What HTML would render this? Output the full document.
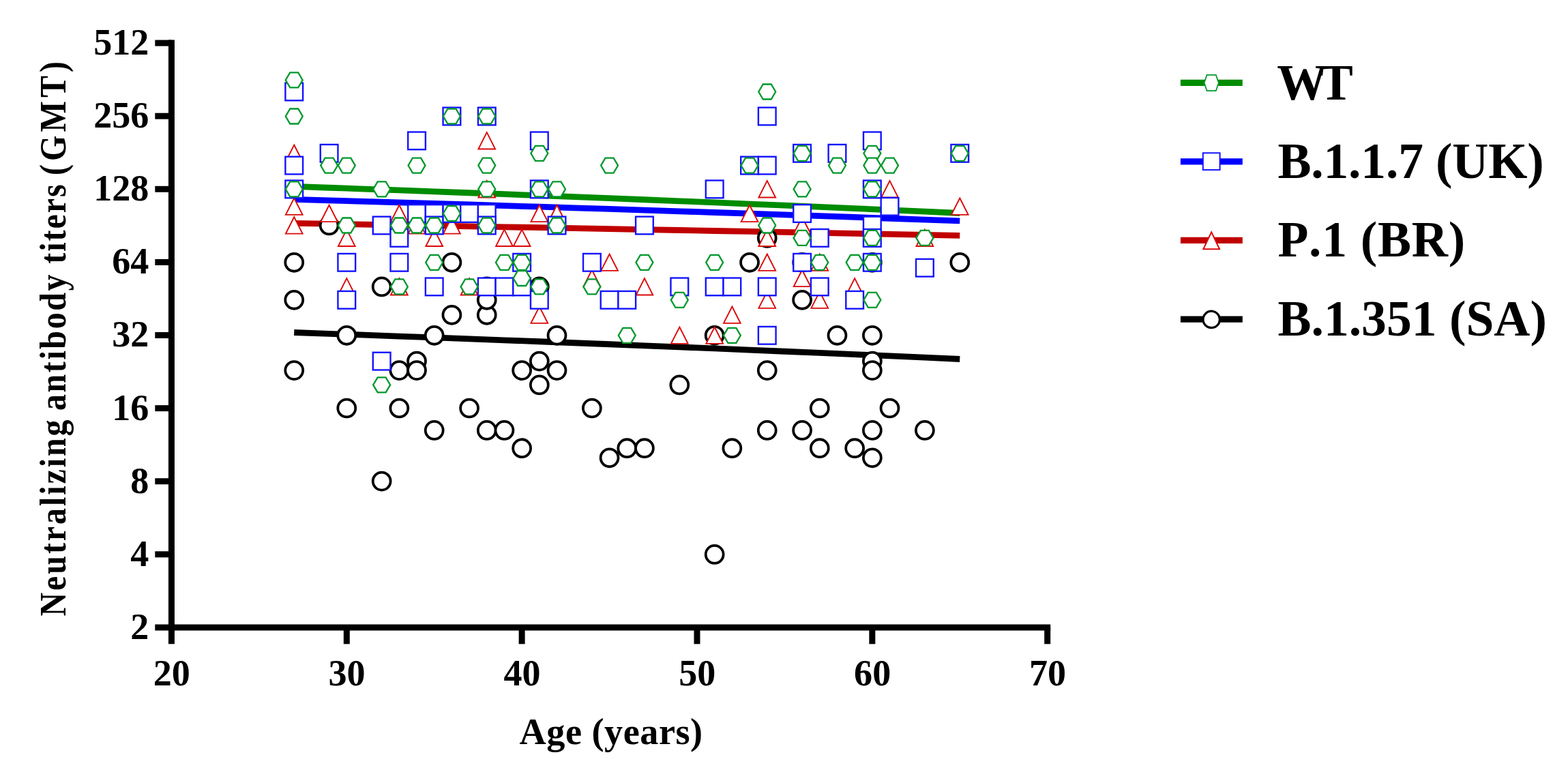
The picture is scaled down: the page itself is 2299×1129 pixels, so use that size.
<!DOCTYPE html>
<html lang="en"><head><meta charset="utf-8"><title>Neutralizing antibody titers by age</title>
<style>html,body{margin:0;padding:0;background:#fff}body{width:2299px;height:1129px;overflow:hidden}svg{display:block}text{font-family:"Liberation Serif","Times New Roman",serif;font-weight:bold;fill:#000;font-kerning:none}</style></head><body>
<svg width="2299" height="1129" viewBox="0 0 2299 1129">
<rect width="2299" height="1129" fill="#fff"/>
<g fill="none" stroke-linecap="butt">
<polyline points="431.25,487.5 482.62,489.32 533.99,491.17 585.36,493.04 636.72,494.93 688.1,496.85 739.46,498.79 790.84,500.75 842.2,502.74 893.58,504.76 944.94,506.8 996.32,508.87 1047.68,510.96 1099.06,513.09 1150.42,515.25 1201.8,517.43 1253.16,519.65 1304.54,521.9 1355.9,524.18 1407.28,526.5" stroke="#000" stroke-width="8.8" stroke-linejoin="round"/>
<polyline points="431.25,327.3 482.62,328.2 533.99,329.11 585.36,330.02 636.72,330.94 688.1,331.86 739.46,332.79 790.84,333.72 842.2,334.66 893.58,335.61 944.94,336.56 996.32,337.52 1047.68,338.48 1099.06,339.45 1150.42,340.43 1201.8,341.41 1253.16,342.4 1304.54,343.39 1355.9,344.39 1407.28,345.4" stroke="#c00000" stroke-width="8.8" stroke-linejoin="round"/>
<polyline points="431.25,292.3 482.62,293.81 533.99,295.34 585.36,296.88 636.72,298.44 688.1,300.01 739.46,301.6 790.84,303.2 842.2,304.83 893.58,306.47 944.94,308.12 996.32,309.8 1047.68,311.49 1099.06,313.21 1150.42,314.94 1201.8,316.69 1253.16,318.46 1304.54,320.25 1355.9,322.07 1407.28,323.9" stroke="#0000ff" stroke-width="8.8" stroke-linejoin="round"/>
<polyline points="431.25,273.4 482.62,275.23 533.99,277.08 585.36,278.95 636.72,280.85 688.1,282.77 739.46,284.71 790.84,286.68 842.2,288.68 893.58,290.7 944.94,292.74 996.32,294.82 1047.68,296.92 1099.06,299.05 1150.42,301.21 1201.8,303.41 1253.16,305.63 1304.54,307.89 1355.9,310.18 1407.28,312.5" stroke="#008c00" stroke-width="8.8" stroke-linejoin="round"/>
</g>
<g id="sa">
<circle cx="431.25" cy="384.8" r="12.95" fill="#fff" stroke="#000" stroke-width="3.8"/>
<circle cx="431.25" cy="439.8" r="12.95" fill="#fff" stroke="#000" stroke-width="3.8"/>
<circle cx="431.25" cy="543.1" r="12.95" fill="#fff" stroke="#000" stroke-width="3.8"/>
<circle cx="482.62" cy="330.5" r="12.95" fill="#fff" stroke="#000" stroke-width="3.8"/>
<circle cx="508.3" cy="491.8" r="12.95" fill="#fff" stroke="#000" stroke-width="3.8"/>
<circle cx="508.3" cy="598.5" r="12.95" fill="#fff" stroke="#000" stroke-width="3.8"/>
<circle cx="559.67" cy="420.4" r="12.95" fill="#fff" stroke="#000" stroke-width="3.8"/>
<circle cx="559.67" cy="705.6" r="12.95" fill="#fff" stroke="#000" stroke-width="3.8"/>
<circle cx="585.36" cy="543.1" r="12.95" fill="#fff" stroke="#000" stroke-width="3.8"/>
<circle cx="585.36" cy="598.5" r="12.95" fill="#fff" stroke="#000" stroke-width="3.8"/>
<circle cx="611.04" cy="529.6" r="12.95" fill="#fff" stroke="#000" stroke-width="3.8"/>
<circle cx="611.04" cy="543.1" r="12.95" fill="#fff" stroke="#000" stroke-width="3.8"/>
<circle cx="636.72" cy="491.8" r="12.95" fill="#fff" stroke="#000" stroke-width="3.8"/>
<circle cx="636.72" cy="630.9" r="12.95" fill="#fff" stroke="#000" stroke-width="3.8"/>
<circle cx="662.41" cy="384.8" r="12.95" fill="#fff" stroke="#000" stroke-width="3.8"/>
<circle cx="662.41" cy="461.8" r="12.95" fill="#fff" stroke="#000" stroke-width="3.8"/>
<circle cx="688.1" cy="598.5" r="12.95" fill="#fff" stroke="#000" stroke-width="3.8"/>
<circle cx="713.78" cy="420.4" r="12.95" fill="#fff" stroke="#000" stroke-width="3.8"/>
<circle cx="713.78" cy="461.8" r="12.95" fill="#fff" stroke="#000" stroke-width="3.8"/>
<circle cx="713.78" cy="439.8" r="12.95" fill="#fff" stroke="#000" stroke-width="3.8"/>
<circle cx="713.78" cy="630.9" r="12.95" fill="#fff" stroke="#000" stroke-width="3.8"/>
<circle cx="739.46" cy="630.9" r="12.95" fill="#fff" stroke="#000" stroke-width="3.8"/>
<circle cx="765.15" cy="543.1" r="12.95" fill="#fff" stroke="#000" stroke-width="3.8"/>
<circle cx="765.15" cy="657.2" r="12.95" fill="#fff" stroke="#000" stroke-width="3.8"/>
<circle cx="790.84" cy="420.4" r="12.95" fill="#fff" stroke="#000" stroke-width="3.8"/>
<circle cx="816.52" cy="491.8" r="12.95" fill="#fff" stroke="#000" stroke-width="3.8"/>
<circle cx="816.52" cy="543.1" r="12.95" fill="#fff" stroke="#000" stroke-width="3.8"/>
<circle cx="790.84" cy="529.6" r="12.95" fill="#fff" stroke="#000" stroke-width="3.8"/>
<circle cx="790.84" cy="564.4" r="12.95" fill="#fff" stroke="#000" stroke-width="3.8"/>
<circle cx="867.89" cy="598.5" r="12.95" fill="#fff" stroke="#000" stroke-width="3.8"/>
<circle cx="893.58" cy="671.3" r="12.95" fill="#fff" stroke="#000" stroke-width="3.8"/>
<circle cx="919.26" cy="657.2" r="12.95" fill="#fff" stroke="#000" stroke-width="3.8"/>
<circle cx="944.94" cy="657.2" r="12.95" fill="#fff" stroke="#000" stroke-width="3.8"/>
<circle cx="996.32" cy="564.4" r="12.95" fill="#fff" stroke="#000" stroke-width="3.8"/>
<circle cx="1047.68" cy="491.8" r="12.95" fill="#fff" stroke="#000" stroke-width="3.8"/>
<circle cx="1047.68" cy="812.9" r="12.95" fill="#fff" stroke="#000" stroke-width="3.8"/>
<circle cx="1073.37" cy="657.2" r="12.95" fill="#fff" stroke="#000" stroke-width="3.8"/>
<circle cx="1099.06" cy="384.8" r="12.95" fill="#fff" stroke="#000" stroke-width="3.8"/>
<circle cx="1124.74" cy="348.9" r="12.95" fill="#fff" stroke="#000" stroke-width="3.8"/>
<circle cx="1124.74" cy="543.1" r="12.95" fill="#fff" stroke="#000" stroke-width="3.8"/>
<circle cx="1124.74" cy="630.9" r="12.95" fill="#fff" stroke="#000" stroke-width="3.8"/>
<circle cx="1176.11" cy="384.8" r="12.95" fill="#fff" stroke="#000" stroke-width="3.8"/>
<circle cx="1176.11" cy="439.8" r="12.95" fill="#fff" stroke="#000" stroke-width="3.8"/>
<circle cx="1176.11" cy="630.9" r="12.95" fill="#fff" stroke="#000" stroke-width="3.8"/>
<circle cx="1201.8" cy="598.5" r="12.95" fill="#fff" stroke="#000" stroke-width="3.8"/>
<circle cx="1201.8" cy="657.2" r="12.95" fill="#fff" stroke="#000" stroke-width="3.8"/>
<circle cx="1227.48" cy="491.8" r="12.95" fill="#fff" stroke="#000" stroke-width="3.8"/>
<circle cx="1253.16" cy="657.2" r="12.95" fill="#fff" stroke="#000" stroke-width="3.8"/>
<circle cx="1278.85" cy="384.8" r="12.95" fill="#fff" stroke="#000" stroke-width="3.8"/>
<circle cx="1278.85" cy="491.8" r="12.95" fill="#fff" stroke="#000" stroke-width="3.8"/>
<circle cx="1278.85" cy="529.6" r="12.95" fill="#fff" stroke="#000" stroke-width="3.8"/>
<circle cx="1278.85" cy="543.1" r="12.95" fill="#fff" stroke="#000" stroke-width="3.8"/>
<circle cx="1278.85" cy="630.9" r="12.95" fill="#fff" stroke="#000" stroke-width="3.8"/>
<circle cx="1278.85" cy="671.3" r="12.95" fill="#fff" stroke="#000" stroke-width="3.8"/>
<circle cx="1304.54" cy="598.5" r="12.95" fill="#fff" stroke="#000" stroke-width="3.8"/>
<circle cx="1355.9" cy="630.9" r="12.95" fill="#fff" stroke="#000" stroke-width="3.8"/>
<circle cx="1407.28" cy="384.8" r="12.95" fill="#fff" stroke="#000" stroke-width="3.8"/>
</g><g id="br">
<polygon points="431.25,212.5 443.6,236.9 418.89,236.9" fill="#fff" stroke="#dc0808" stroke-width="1.9" stroke-linejoin="miter"/>
<polygon points="431.25,290.5 443.6,314.9 418.89,314.9" fill="#fff" stroke="#dc0808" stroke-width="1.9" stroke-linejoin="miter"/>
<polygon points="431.25,318.2 443.6,342.6 418.89,342.6" fill="#fff" stroke="#dc0808" stroke-width="1.9" stroke-linejoin="miter"/>
<polygon points="482.62,300.7 494.97,325.1 470.26,325.1" fill="#fff" stroke="#dc0808" stroke-width="1.9" stroke-linejoin="miter"/>
<polygon points="508.3,336.6 520.65,361 495.95,361" fill="#fff" stroke="#dc0808" stroke-width="1.9" stroke-linejoin="miter"/>
<polygon points="508.3,408.1 520.65,432.5 495.95,432.5" fill="#fff" stroke="#dc0808" stroke-width="1.9" stroke-linejoin="miter"/>
<polygon points="585.36,300.7 597.71,325.1 573,325.1" fill="#fff" stroke="#dc0808" stroke-width="1.9" stroke-linejoin="miter"/>
<polygon points="585.36,408.1 597.71,432.5 573,432.5" fill="#fff" stroke="#dc0808" stroke-width="1.9" stroke-linejoin="miter"/>
<polygon points="611.04,318.2 623.39,342.6 598.69,342.6" fill="#fff" stroke="#dc0808" stroke-width="1.9" stroke-linejoin="miter"/>
<polygon points="636.72,336.6 649.07,361 624.37,361" fill="#fff" stroke="#dc0808" stroke-width="1.9" stroke-linejoin="miter"/>
<polygon points="662.41,318.2 674.76,342.6 650.06,342.6" fill="#fff" stroke="#dc0808" stroke-width="1.9" stroke-linejoin="miter"/>
<polygon points="688.1,408.1 700.45,432.5 675.75,432.5" fill="#fff" stroke="#dc0808" stroke-width="1.9" stroke-linejoin="miter"/>
<polygon points="713.78,194.1 726.13,218.5 701.43,218.5" fill="#fff" stroke="#dc0808" stroke-width="1.9" stroke-linejoin="miter"/>
<polygon points="713.78,265.1 726.13,289.5 701.43,289.5" fill="#fff" stroke="#dc0808" stroke-width="1.9" stroke-linejoin="miter"/>
<polygon points="739.46,336.6 751.81,361 727.11,361" fill="#fff" stroke="#dc0808" stroke-width="1.9" stroke-linejoin="miter"/>
<polygon points="765.15,336.6 777.5,361 752.8,361" fill="#fff" stroke="#dc0808" stroke-width="1.9" stroke-linejoin="miter"/>
<polygon points="790.84,300.7 803.19,325.1 778.49,325.1" fill="#fff" stroke="#dc0808" stroke-width="1.9" stroke-linejoin="miter"/>
<polygon points="790.84,449.5 803.19,473.9 778.49,473.9" fill="#fff" stroke="#dc0808" stroke-width="1.9" stroke-linejoin="miter"/>
<polygon points="816.52,300.7 828.87,325.1 804.17,325.1" fill="#fff" stroke="#dc0808" stroke-width="1.9" stroke-linejoin="miter"/>
<polygon points="867.89,395.7 880.24,420.1 855.54,420.1" fill="#fff" stroke="#dc0808" stroke-width="1.9" stroke-linejoin="miter"/>
<polygon points="893.58,372.5 905.93,396.9 881.23,396.9" fill="#fff" stroke="#dc0808" stroke-width="1.9" stroke-linejoin="miter"/>
<polygon points="944.94,408.1 957.29,432.5 932.59,432.5" fill="#fff" stroke="#dc0808" stroke-width="1.9" stroke-linejoin="miter"/>
<polygon points="996.32,479.5 1008.67,503.9 983.97,503.9" fill="#fff" stroke="#dc0808" stroke-width="1.9" stroke-linejoin="miter"/>
<polygon points="1047.68,479.5 1060.03,503.9 1035.34,503.9" fill="#fff" stroke="#dc0808" stroke-width="1.9" stroke-linejoin="miter"/>
<polygon points="1073.37,449.5 1085.72,473.9 1061.02,473.9" fill="#fff" stroke="#dc0808" stroke-width="1.9" stroke-linejoin="miter"/>
<polygon points="1099.06,300.7 1111.4,325.1 1086.71,325.1" fill="#fff" stroke="#dc0808" stroke-width="1.9" stroke-linejoin="miter"/>
<polygon points="1124.74,265.1 1137.09,289.5 1112.39,289.5" fill="#fff" stroke="#dc0808" stroke-width="1.9" stroke-linejoin="miter"/>
<polygon points="1124.74,336.6 1137.09,361 1112.39,361" fill="#fff" stroke="#dc0808" stroke-width="1.9" stroke-linejoin="miter"/>
<polygon points="1124.74,372.5 1137.09,396.9 1112.39,396.9" fill="#fff" stroke="#dc0808" stroke-width="1.9" stroke-linejoin="miter"/>
<polygon points="1124.74,427.5 1137.09,451.9 1112.39,451.9" fill="#fff" stroke="#dc0808" stroke-width="1.9" stroke-linejoin="miter"/>
<polygon points="1176.11,318.2 1188.46,342.6 1163.76,342.6" fill="#fff" stroke="#dc0808" stroke-width="1.9" stroke-linejoin="miter"/>
<polygon points="1176.11,395.7 1188.46,420.1 1163.76,420.1" fill="#fff" stroke="#dc0808" stroke-width="1.9" stroke-linejoin="miter"/>
<polygon points="1201.8,372.5 1214.14,396.9 1189.45,396.9" fill="#fff" stroke="#dc0808" stroke-width="1.9" stroke-linejoin="miter"/>
<polygon points="1201.8,427.5 1214.14,451.9 1189.45,451.9" fill="#fff" stroke="#dc0808" stroke-width="1.9" stroke-linejoin="miter"/>
<polygon points="1253.16,408.1 1265.51,432.5 1240.82,432.5" fill="#fff" stroke="#dc0808" stroke-width="1.9" stroke-linejoin="miter"/>
<polygon points="1304.54,265.1 1316.88,289.5 1292.19,289.5" fill="#fff" stroke="#dc0808" stroke-width="1.9" stroke-linejoin="miter"/>
<polygon points="1355.9,336.6 1368.25,361 1343.56,361" fill="#fff" stroke="#dc0808" stroke-width="1.9" stroke-linejoin="miter"/>
<polygon points="1407.28,290.5 1419.62,314.9 1394.93,314.9" fill="#fff" stroke="#dc0808" stroke-width="1.9" stroke-linejoin="miter"/>
</g><g id="uk">
<rect x="418.39" y="121.65" width="25.7" height="25.7" fill="#fff" stroke="#1414ff" stroke-width="2.4"/>
<rect x="418.39" y="229.75" width="25.7" height="25.7" fill="#fff" stroke="#1414ff" stroke-width="2.4"/>
<rect x="418.39" y="264.55" width="25.7" height="25.7" fill="#fff" stroke="#1414ff" stroke-width="2.4"/>
<rect x="469.76" y="211.95" width="25.7" height="25.7" fill="#fff" stroke="#1414ff" stroke-width="2.4"/>
<rect x="495.45" y="371.95" width="25.7" height="25.7" fill="#fff" stroke="#1414ff" stroke-width="2.4"/>
<rect x="495.45" y="426.95" width="25.7" height="25.7" fill="#fff" stroke="#1414ff" stroke-width="2.4"/>
<rect x="546.82" y="317.65" width="25.7" height="25.7" fill="#fff" stroke="#1414ff" stroke-width="2.4"/>
<rect x="546.82" y="516.75" width="25.7" height="25.7" fill="#fff" stroke="#1414ff" stroke-width="2.4"/>
<rect x="572.5" y="336.05" width="25.7" height="25.7" fill="#fff" stroke="#1414ff" stroke-width="2.4"/>
<rect x="572.5" y="371.95" width="25.7" height="25.7" fill="#fff" stroke="#1414ff" stroke-width="2.4"/>
<rect x="598.19" y="193.55" width="25.7" height="25.7" fill="#fff" stroke="#1414ff" stroke-width="2.4"/>
<rect x="598.19" y="300.15" width="25.7" height="25.7" fill="#fff" stroke="#1414ff" stroke-width="2.4"/>
<rect x="623.87" y="300.15" width="25.7" height="25.7" fill="#fff" stroke="#1414ff" stroke-width="2.4"/>
<rect x="623.87" y="317.65" width="25.7" height="25.7" fill="#fff" stroke="#1414ff" stroke-width="2.4"/>
<rect x="623.87" y="407.55" width="25.7" height="25.7" fill="#fff" stroke="#1414ff" stroke-width="2.4"/>
<rect x="649.56" y="157.65" width="25.7" height="25.7" fill="#fff" stroke="#1414ff" stroke-width="2.4"/>
<rect x="649.56" y="300.15" width="25.7" height="25.7" fill="#fff" stroke="#1414ff" stroke-width="2.4"/>
<rect x="675.25" y="300.15" width="25.7" height="25.7" fill="#fff" stroke="#1414ff" stroke-width="2.4"/>
<rect x="700.93" y="157.65" width="25.7" height="25.7" fill="#fff" stroke="#1414ff" stroke-width="2.4"/>
<rect x="700.93" y="300.15" width="25.7" height="25.7" fill="#fff" stroke="#1414ff" stroke-width="2.4"/>
<rect x="700.93" y="317.65" width="25.7" height="25.7" fill="#fff" stroke="#1414ff" stroke-width="2.4"/>
<rect x="700.93" y="407.55" width="25.7" height="25.7" fill="#fff" stroke="#1414ff" stroke-width="2.4"/>
<rect x="726.61" y="407.55" width="25.7" height="25.7" fill="#fff" stroke="#1414ff" stroke-width="2.4"/>
<rect x="752.3" y="371.95" width="25.7" height="25.7" fill="#fff" stroke="#1414ff" stroke-width="2.4"/>
<rect x="752.3" y="407.55" width="25.7" height="25.7" fill="#fff" stroke="#1414ff" stroke-width="2.4"/>
<rect x="777.99" y="193.55" width="25.7" height="25.7" fill="#fff" stroke="#1414ff" stroke-width="2.4"/>
<rect x="777.99" y="264.55" width="25.7" height="25.7" fill="#fff" stroke="#1414ff" stroke-width="2.4"/>
<rect x="777.99" y="426.95" width="25.7" height="25.7" fill="#fff" stroke="#1414ff" stroke-width="2.4"/>
<rect x="803.67" y="317.65" width="25.7" height="25.7" fill="#fff" stroke="#1414ff" stroke-width="2.4"/>
<rect x="855.04" y="371.95" width="25.7" height="25.7" fill="#fff" stroke="#1414ff" stroke-width="2.4"/>
<rect x="880.73" y="426.95" width="25.7" height="25.7" fill="#fff" stroke="#1414ff" stroke-width="2.4"/>
<rect x="906.41" y="426.95" width="25.7" height="25.7" fill="#fff" stroke="#1414ff" stroke-width="2.4"/>
<rect x="932.09" y="317.65" width="25.7" height="25.7" fill="#fff" stroke="#1414ff" stroke-width="2.4"/>
<rect x="983.47" y="407.55" width="25.7" height="25.7" fill="#fff" stroke="#1414ff" stroke-width="2.4"/>
<rect x="1034.84" y="264.55" width="25.7" height="25.7" fill="#fff" stroke="#1414ff" stroke-width="2.4"/>
<rect x="1034.84" y="407.55" width="25.7" height="25.7" fill="#fff" stroke="#1414ff" stroke-width="2.4"/>
<rect x="1060.52" y="407.55" width="25.7" height="25.7" fill="#fff" stroke="#1414ff" stroke-width="2.4"/>
<rect x="1086.21" y="229.75" width="25.7" height="25.7" fill="#fff" stroke="#1414ff" stroke-width="2.4"/>
<rect x="1111.89" y="157.65" width="25.7" height="25.7" fill="#fff" stroke="#1414ff" stroke-width="2.4"/>
<rect x="1111.89" y="229.75" width="25.7" height="25.7" fill="#fff" stroke="#1414ff" stroke-width="2.4"/>
<rect x="1111.89" y="407.55" width="25.7" height="25.7" fill="#fff" stroke="#1414ff" stroke-width="2.4"/>
<rect x="1111.89" y="478.95" width="25.7" height="25.7" fill="#fff" stroke="#1414ff" stroke-width="2.4"/>
<rect x="1163.26" y="211.95" width="25.7" height="25.7" fill="#fff" stroke="#1414ff" stroke-width="2.4"/>
<rect x="1163.26" y="300.15" width="25.7" height="25.7" fill="#fff" stroke="#1414ff" stroke-width="2.4"/>
<rect x="1163.26" y="371.95" width="25.7" height="25.7" fill="#fff" stroke="#1414ff" stroke-width="2.4"/>
<rect x="1188.95" y="336.05" width="25.7" height="25.7" fill="#fff" stroke="#1414ff" stroke-width="2.4"/>
<rect x="1188.95" y="407.55" width="25.7" height="25.7" fill="#fff" stroke="#1414ff" stroke-width="2.4"/>
<rect x="1214.63" y="211.95" width="25.7" height="25.7" fill="#fff" stroke="#1414ff" stroke-width="2.4"/>
<rect x="1240.32" y="426.95" width="25.7" height="25.7" fill="#fff" stroke="#1414ff" stroke-width="2.4"/>
<rect x="1266" y="193.55" width="25.7" height="25.7" fill="#fff" stroke="#1414ff" stroke-width="2.4"/>
<rect x="1266" y="264.55" width="25.7" height="25.7" fill="#fff" stroke="#1414ff" stroke-width="2.4"/>
<rect x="1266" y="317.65" width="25.7" height="25.7" fill="#fff" stroke="#1414ff" stroke-width="2.4"/>
<rect x="1266" y="336.05" width="25.7" height="25.7" fill="#fff" stroke="#1414ff" stroke-width="2.4"/>
<rect x="1266" y="371.95" width="25.7" height="25.7" fill="#fff" stroke="#1414ff" stroke-width="2.4"/>
<rect x="1291.69" y="289.95" width="25.7" height="25.7" fill="#fff" stroke="#1414ff" stroke-width="2.4"/>
<rect x="1343.06" y="379.85" width="25.7" height="25.7" fill="#fff" stroke="#1414ff" stroke-width="2.4"/>
<rect x="1394.43" y="211.95" width="25.7" height="25.7" fill="#fff" stroke="#1414ff" stroke-width="2.4"/>
</g><g id="wt">
<polygon points="418.75,117.4 425.25,106.4 437.25,106.4 443.75,117.4 437.25,128.4 425.25,128.4" fill="#fff" stroke="#00982c" stroke-width="2.3" stroke-linejoin="miter"/>
<polygon points="418.75,170.5 425.25,159.5 437.25,159.5 443.75,170.5 437.25,181.5 425.25,181.5" fill="#fff" stroke="#00982c" stroke-width="2.3" stroke-linejoin="miter"/>
<polygon points="418.75,277.4 425.25,266.4 437.25,266.4 443.75,277.4 437.25,288.4 425.25,288.4" fill="#fff" stroke="#00982c" stroke-width="2.3" stroke-linejoin="miter"/>
<polygon points="470.12,242.6 476.62,231.6 488.62,231.6 495.12,242.6 488.62,253.6 476.62,253.6" fill="#fff" stroke="#00982c" stroke-width="2.3" stroke-linejoin="miter"/>
<polygon points="495.8,242.6 502.3,231.6 514.3,231.6 520.8,242.6 514.3,253.6 502.3,253.6" fill="#fff" stroke="#00982c" stroke-width="2.3" stroke-linejoin="miter"/>
<polygon points="495.8,330.5 502.3,319.5 514.3,319.5 520.8,330.5 514.3,341.5 502.3,341.5" fill="#fff" stroke="#00982c" stroke-width="2.3" stroke-linejoin="miter"/>
<polygon points="547.17,277.4 553.67,266.4 565.67,266.4 572.17,277.4 565.67,288.4 553.67,288.4" fill="#fff" stroke="#00982c" stroke-width="2.3" stroke-linejoin="miter"/>
<polygon points="547.17,564.4 553.67,553.4 565.67,553.4 572.17,564.4 565.67,575.4 553.67,575.4" fill="#fff" stroke="#00982c" stroke-width="2.3" stroke-linejoin="miter"/>
<polygon points="572.86,330.5 579.36,319.5 591.36,319.5 597.86,330.5 591.36,341.5 579.36,341.5" fill="#fff" stroke="#00982c" stroke-width="2.3" stroke-linejoin="miter"/>
<polygon points="572.86,420.4 579.36,409.4 591.36,409.4 597.86,420.4 591.36,431.4 579.36,431.4" fill="#fff" stroke="#00982c" stroke-width="2.3" stroke-linejoin="miter"/>
<polygon points="598.54,242.6 605.04,231.6 617.04,231.6 623.54,242.6 617.04,253.6 605.04,253.6" fill="#fff" stroke="#00982c" stroke-width="2.3" stroke-linejoin="miter"/>
<polygon points="598.54,330.5 605.04,319.5 617.04,319.5 623.54,330.5 617.04,341.5 605.04,341.5" fill="#fff" stroke="#00982c" stroke-width="2.3" stroke-linejoin="miter"/>
<polygon points="624.22,330.5 630.72,319.5 642.72,319.5 649.22,330.5 642.72,341.5 630.72,341.5" fill="#fff" stroke="#00982c" stroke-width="2.3" stroke-linejoin="miter"/>
<polygon points="624.22,384.8 630.72,373.8 642.72,373.8 649.22,384.8 642.72,395.8 630.72,395.8" fill="#fff" stroke="#00982c" stroke-width="2.3" stroke-linejoin="miter"/>
<polygon points="649.91,170.5 656.41,159.5 668.41,159.5 674.91,170.5 668.41,181.5 656.41,181.5" fill="#fff" stroke="#00982c" stroke-width="2.3" stroke-linejoin="miter"/>
<polygon points="649.91,313 656.41,302 668.41,302 674.91,313 668.41,324 656.41,324" fill="#fff" stroke="#00982c" stroke-width="2.3" stroke-linejoin="miter"/>
<polygon points="675.6,420.4 682.1,409.4 694.1,409.4 700.6,420.4 694.1,431.4 682.1,431.4" fill="#fff" stroke="#00982c" stroke-width="2.3" stroke-linejoin="miter"/>
<polygon points="701.28,170.5 707.78,159.5 719.78,159.5 726.28,170.5 719.78,181.5 707.78,181.5" fill="#fff" stroke="#00982c" stroke-width="2.3" stroke-linejoin="miter"/>
<polygon points="701.28,242.6 707.78,231.6 719.78,231.6 726.28,242.6 719.78,253.6 707.78,253.6" fill="#fff" stroke="#00982c" stroke-width="2.3" stroke-linejoin="miter"/>
<polygon points="701.28,277.4 707.78,266.4 719.78,266.4 726.28,277.4 719.78,288.4 707.78,288.4" fill="#fff" stroke="#00982c" stroke-width="2.3" stroke-linejoin="miter"/>
<polygon points="701.28,330.5 707.78,319.5 719.78,319.5 726.28,330.5 719.78,341.5 707.78,341.5" fill="#fff" stroke="#00982c" stroke-width="2.3" stroke-linejoin="miter"/>
<polygon points="726.96,384.8 733.46,373.8 745.46,373.8 751.96,384.8 745.46,395.8 733.46,395.8" fill="#fff" stroke="#00982c" stroke-width="2.3" stroke-linejoin="miter"/>
<polygon points="752.65,384.8 759.15,373.8 771.15,373.8 777.65,384.8 771.15,395.8 759.15,395.8" fill="#fff" stroke="#00982c" stroke-width="2.3" stroke-linejoin="miter"/>
<polygon points="752.65,408 759.15,397 771.15,397 777.65,408 771.15,419 759.15,419" fill="#fff" stroke="#00982c" stroke-width="2.3" stroke-linejoin="miter"/>
<polygon points="778.34,224.8 784.84,213.8 796.84,213.8 803.34,224.8 796.84,235.8 784.84,235.8" fill="#fff" stroke="#00982c" stroke-width="2.3" stroke-linejoin="miter"/>
<polygon points="778.34,277.4 784.84,266.4 796.84,266.4 803.34,277.4 796.84,288.4 784.84,288.4" fill="#fff" stroke="#00982c" stroke-width="2.3" stroke-linejoin="miter"/>
<polygon points="778.34,420.4 784.84,409.4 796.84,409.4 803.34,420.4 796.84,431.4 784.84,431.4" fill="#fff" stroke="#00982c" stroke-width="2.3" stroke-linejoin="miter"/>
<polygon points="804.02,277.4 810.52,266.4 822.52,266.4 829.02,277.4 822.52,288.4 810.52,288.4" fill="#fff" stroke="#00982c" stroke-width="2.3" stroke-linejoin="miter"/>
<polygon points="804.02,330.5 810.52,319.5 822.52,319.5 829.02,330.5 822.52,341.5 810.52,341.5" fill="#fff" stroke="#00982c" stroke-width="2.3" stroke-linejoin="miter"/>
<polygon points="855.39,420.4 861.89,409.4 873.89,409.4 880.39,420.4 873.89,431.4 861.89,431.4" fill="#fff" stroke="#00982c" stroke-width="2.3" stroke-linejoin="miter"/>
<polygon points="881.08,242.6 887.58,231.6 899.58,231.6 906.08,242.6 899.58,253.6 887.58,253.6" fill="#fff" stroke="#00982c" stroke-width="2.3" stroke-linejoin="miter"/>
<polygon points="906.76,491.8 913.26,480.8 925.26,480.8 931.76,491.8 925.26,502.8 913.26,502.8" fill="#fff" stroke="#00982c" stroke-width="2.3" stroke-linejoin="miter"/>
<polygon points="932.44,384.8 938.94,373.8 950.94,373.8 957.44,384.8 950.94,395.8 938.94,395.8" fill="#fff" stroke="#00982c" stroke-width="2.3" stroke-linejoin="miter"/>
<polygon points="983.82,439.8 990.32,428.8 1002.32,428.8 1008.82,439.8 1002.32,450.8 990.32,450.8" fill="#fff" stroke="#00982c" stroke-width="2.3" stroke-linejoin="miter"/>
<polygon points="1035.18,384.8 1041.68,373.8 1053.68,373.8 1060.18,384.8 1053.68,395.8 1041.68,395.8" fill="#fff" stroke="#00982c" stroke-width="2.3" stroke-linejoin="miter"/>
<polygon points="1060.87,491.8 1067.37,480.8 1079.37,480.8 1085.87,491.8 1079.37,502.8 1067.37,502.8" fill="#fff" stroke="#00982c" stroke-width="2.3" stroke-linejoin="miter"/>
<polygon points="1086.56,242.6 1093.06,231.6 1105.06,231.6 1111.56,242.6 1105.06,253.6 1093.06,253.6" fill="#fff" stroke="#00982c" stroke-width="2.3" stroke-linejoin="miter"/>
<polygon points="1112.24,134.5 1118.74,123.5 1130.74,123.5 1137.24,134.5 1130.74,145.5 1118.74,145.5" fill="#fff" stroke="#00982c" stroke-width="2.3" stroke-linejoin="miter"/>
<polygon points="1112.24,330.5 1118.74,319.5 1130.74,319.5 1137.24,330.5 1130.74,341.5 1118.74,341.5" fill="#fff" stroke="#00982c" stroke-width="2.3" stroke-linejoin="miter"/>
<polygon points="1163.61,224.8 1170.11,213.8 1182.11,213.8 1188.61,224.8 1182.11,235.8 1170.11,235.8" fill="#fff" stroke="#00982c" stroke-width="2.3" stroke-linejoin="miter"/>
<polygon points="1163.61,277.4 1170.11,266.4 1182.11,266.4 1188.61,277.4 1182.11,288.4 1170.11,288.4" fill="#fff" stroke="#00982c" stroke-width="2.3" stroke-linejoin="miter"/>
<polygon points="1163.61,348.9 1170.11,337.9 1182.11,337.9 1188.61,348.9 1182.11,359.9 1170.11,359.9" fill="#fff" stroke="#00982c" stroke-width="2.3" stroke-linejoin="miter"/>
<polygon points="1189.3,384.8 1195.8,373.8 1207.8,373.8 1214.3,384.8 1207.8,395.8 1195.8,395.8" fill="#fff" stroke="#00982c" stroke-width="2.3" stroke-linejoin="miter"/>
<polygon points="1214.98,242.6 1221.48,231.6 1233.48,231.6 1239.98,242.6 1233.48,253.6 1221.48,253.6" fill="#fff" stroke="#00982c" stroke-width="2.3" stroke-linejoin="miter"/>
<polygon points="1240.66,384.8 1247.16,373.8 1259.16,373.8 1265.66,384.8 1259.16,395.8 1247.16,395.8" fill="#fff" stroke="#00982c" stroke-width="2.3" stroke-linejoin="miter"/>
<polygon points="1266.35,224.8 1272.85,213.8 1284.85,213.8 1291.35,224.8 1284.85,235.8 1272.85,235.8" fill="#fff" stroke="#00982c" stroke-width="2.3" stroke-linejoin="miter"/>
<polygon points="1266.35,242.6 1272.85,231.6 1284.85,231.6 1291.35,242.6 1284.85,253.6 1272.85,253.6" fill="#fff" stroke="#00982c" stroke-width="2.3" stroke-linejoin="miter"/>
<polygon points="1266.35,277.4 1272.85,266.4 1284.85,266.4 1291.35,277.4 1284.85,288.4 1272.85,288.4" fill="#fff" stroke="#00982c" stroke-width="2.3" stroke-linejoin="miter"/>
<polygon points="1266.35,348.9 1272.85,337.9 1284.85,337.9 1291.35,348.9 1284.85,359.9 1272.85,359.9" fill="#fff" stroke="#00982c" stroke-width="2.3" stroke-linejoin="miter"/>
<polygon points="1266.35,384.8 1272.85,373.8 1284.85,373.8 1291.35,384.8 1284.85,395.8 1272.85,395.8" fill="#fff" stroke="#00982c" stroke-width="2.3" stroke-linejoin="miter"/>
<polygon points="1266.35,439.8 1272.85,428.8 1284.85,428.8 1291.35,439.8 1284.85,450.8 1272.85,450.8" fill="#fff" stroke="#00982c" stroke-width="2.3" stroke-linejoin="miter"/>
<polygon points="1292.04,242.6 1298.54,231.6 1310.54,231.6 1317.04,242.6 1310.54,253.6 1298.54,253.6" fill="#fff" stroke="#00982c" stroke-width="2.3" stroke-linejoin="miter"/>
<polygon points="1343.4,348.9 1349.9,337.9 1361.9,337.9 1368.4,348.9 1361.9,359.9 1349.9,359.9" fill="#fff" stroke="#00982c" stroke-width="2.3" stroke-linejoin="miter"/>
<polygon points="1394.78,224.8 1401.28,213.8 1413.28,213.8 1419.78,224.8 1413.28,235.8 1401.28,235.8" fill="#fff" stroke="#00982c" stroke-width="2.3" stroke-linejoin="miter"/>
</g>
<g stroke="#000" stroke-width="9" fill="none" stroke-linecap="butt">
<line x1="251.45" y1="58.6" x2="251.45" y2="944.3"/>
<line x1="227.3" y1="919.9" x2="1540.2" y2="919.9"/>
<line x1="227.3" y1="63.1" x2="251.45" y2="63.1"/>
<line x1="227.3" y1="170.2" x2="251.45" y2="170.2"/>
<line x1="227.3" y1="277.3" x2="251.45" y2="277.3"/>
<line x1="227.3" y1="384.4" x2="251.45" y2="384.4"/>
<line x1="227.3" y1="491.5" x2="251.45" y2="491.5"/>
<line x1="227.3" y1="598.6" x2="251.45" y2="598.6"/>
<line x1="227.3" y1="705.7" x2="251.45" y2="705.7"/>
<line x1="227.3" y1="812.8" x2="251.45" y2="812.8"/>
<line x1="508.3" y1="919.9" x2="508.3" y2="944.3"/>
<line x1="765.15" y1="919.9" x2="765.15" y2="944.3"/>
<line x1="1022" y1="919.9" x2="1022" y2="944.3"/>
<line x1="1278.85" y1="919.9" x2="1278.85" y2="944.3"/>
<line x1="1535.7" y1="919.9" x2="1535.7" y2="944.3"/>
</g>
<g font-size="54.5">
<text transform="translate(218.4 80) scale(0.98 1)" font-size="55.2" text-anchor="end">512</text>
<text transform="translate(218.4 187.1) scale(0.98 1)" font-size="55.2" text-anchor="end">256</text>
<text transform="translate(218.4 294.2) scale(0.98 1)" font-size="55.2" text-anchor="end">128</text>
<text transform="translate(218.4 401.3) scale(0.98 1)" font-size="55.2" text-anchor="end">64</text>
<text transform="translate(218.4 508.4) scale(0.98 1)" font-size="55.2" text-anchor="end">32</text>
<text transform="translate(218.4 615.5) scale(0.98 1)" font-size="55.2" text-anchor="end">16</text>
<text transform="translate(218.4 722.6) scale(0.98 1)" font-size="55.2" text-anchor="end">8</text>
<text transform="translate(218.4 829.7) scale(0.98 1)" font-size="55.2" text-anchor="end">4</text>
<text transform="translate(218.4 936.8) scale(0.98 1)" font-size="55.2" text-anchor="end">2</text>
<text transform="translate(251.75 1005.4) scale(0.98 1)" font-size="55.2" text-anchor="middle">20</text>
<text transform="translate(508.6 1005.4) scale(0.98 1)" font-size="55.2" text-anchor="middle">30</text>
<text transform="translate(765.45 1005.4) scale(0.98 1)" font-size="55.2" text-anchor="middle">40</text>
<text transform="translate(1022.3 1005.4) scale(0.98 1)" font-size="55.2" text-anchor="middle">50</text>
<text transform="translate(1279.15 1005.4) scale(0.98 1)" font-size="55.2" text-anchor="middle">60</text>
<text transform="translate(1536 1005.4) scale(0.98 1)" font-size="55.2" text-anchor="middle">70</text>
<text x="761.6" y="1090.6" font-size="54.3" textLength="268.6" lengthAdjust="spacing">Age (years)</text>
<text transform="translate(95.5 903.5) rotate(-90) scale(0.88 1)" x="0 42.69 70.22 103.85 125.33 152.86 183.44 201.91 220.38 247.91 266.38 300.01 328.27 342.61 372.83 406.1 427.2 445.31 478.58 508.79 542.06 570.31 587.16 607.57 624.98 645.4 671.86 698.33 720.55 734.66 758.62 806.84 864.1 906.28" y="0">Neutralizing antibody titers (GMT)</text>
</g>
<g id="legend">
<line x1="1730.9" y1="121.4" x2="1821.8" y2="121.4" stroke="#008c00" stroke-width="9.3"/>
<line x1="1730.9" y1="236.9" x2="1821.8" y2="236.9" stroke="#0000ff" stroke-width="9.3"/>
<line x1="1730.9" y1="352.4" x2="1821.8" y2="352.4" stroke="#c00000" stroke-width="9.3"/>
<line x1="1730.9" y1="468.1" x2="1821.8" y2="468.1" stroke="#000" stroke-width="9.3"/>
<polygon points="1765.6,121.5 1769.6,109.8 1782.8,109.8 1786.8,121.5 1782.8,133.2 1769.6,133.2" fill="#fff" stroke="#00982c" stroke-width="1.8" stroke-linejoin="miter"/>
<rect x="1763.8" y="224.3" width="24.8" height="24.8" fill="#fff" stroke="#1414ff" stroke-width="2"/>
<polygon points="1776.2,340.3 1788.1,365.2 1764.3,365.2" fill="#fff" stroke="#dc0808" stroke-width="2" stroke-linejoin="miter"/>
<circle cx="1776.2" cy="468.4" r="12.2" fill="#fff" stroke="#000" stroke-width="3.2"/>
</g>
<g font-size="73.6">
<text x="1872.3" y="146" style="letter-spacing:-11.2px">WT</text>
<text x="1873.4" y="260.6" textLength="390.4" lengthAdjust="spacing">B.1.1.7 (UK)</text>
<text x="1873.4" y="376.2" textLength="274.8" lengthAdjust="spacing">P.1 (BR)</text>
<text x="1873.4" y="492" textLength="394.6" lengthAdjust="spacing">B.1.351 (SA)</text>
</g>
</svg></body></html>
